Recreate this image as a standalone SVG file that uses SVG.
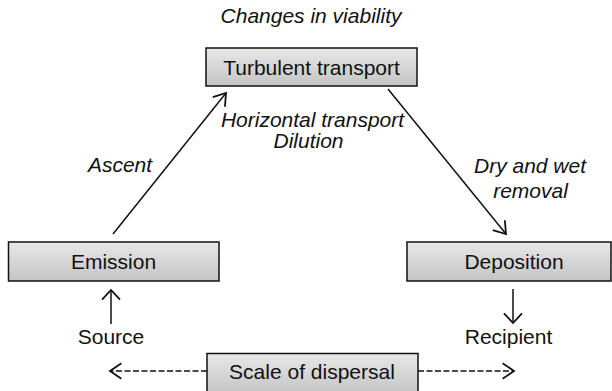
<svg xmlns="http://www.w3.org/2000/svg" width="612" height="391" viewBox="0 0 612 391">
<defs>
<linearGradient id="boxfill" x1="0" y1="0" x2="0" y2="1">
<stop offset="0" stop-color="#e8e8e8"/>
<stop offset="1" stop-color="#c4c4c4"/>
</linearGradient>
<marker id="open" markerUnits="userSpaceOnUse" markerWidth="24" markerHeight="24" viewBox="-12 -10 14 20" refX="0" refY="0" orient="auto">
<path d="M-9.5,-6.5 L0,0 L-9.5,6.5" fill="none" stroke="#111" stroke-width="1.5"/>
</marker>
<marker id="wide" markerUnits="userSpaceOnUse" markerWidth="24" markerHeight="24" viewBox="-12 -10 14 20" refX="0" refY="0" orient="auto">
<path d="M-8,-7.5 L0,0 L-8,7.5" fill="none" stroke="#111" stroke-width="1.5"/>
</marker>
</defs>
<style>
.box{fill:url(#boxfill);stroke:#111;stroke-width:1.5}
.t{font-family:"Liberation Sans",Arial,Helvetica,sans-serif;font-size:21px;fill:#111;text-anchor:middle}
.i{font-style:italic}
.c{fill:none;stroke:#111;stroke-width:1.5}
.d{stroke-dasharray:6,2.5}
</style>
<g id="connectors">
<line class="c" x1="113" y1="234" x2="226" y2="93" marker-end="url(#open)"/>
<line class="c" x1="388" y1="89" x2="506" y2="234" marker-end="url(#open)"/>
<line class="c" x1="111" y1="324" x2="111" y2="290" marker-end="url(#wide)"/>
<line class="c" x1="513" y1="289" x2="513" y2="323" marker-end="url(#wide)"/>
<line class="c d" x1="207" y1="371" x2="110" y2="371" marker-end="url(#open)"/>
<line class="c d" x1="418" y1="371" x2="514" y2="371" marker-end="url(#open)"/>
</g>
<g id="turbulent">
<rect class="box" x="206" y="48" width="211" height="38"/>
<text class="t" x="311.5" y="74.5">Turbulent transport</text>
</g>
<g id="emission">
<rect class="box" x="8.5" y="242" width="210.5" height="39"/>
<text class="t" x="113.5" y="268.5">Emission</text>
</g>
<g id="deposition">
<rect class="box" x="407" y="242" width="204" height="39"/>
<text class="t" x="514" y="268.5">Deposition</text>
</g>
<g id="scale">
<rect class="box" x="207" y="353.5" width="211" height="40"/>
<text class="t" x="312" y="378.5">Scale of dispersal</text>
</g>
<g id="labels">
<text class="t i" x="311" y="23">Changes in viability</text>
<text class="t i" x="312.5" y="127">Horizontal transport</text>
<text class="t i" x="308.5" y="148">Dilution</text>
<text class="t i" x="120" y="172">Ascent</text>
<text class="t i" x="530" y="173">Dry and wet</text>
<text class="t i" x="530.5" y="198">removal</text>
<text class="t" x="111" y="344">Source</text>
<text class="t" x="508.5" y="344">Recipient</text>
</g>
</svg>
